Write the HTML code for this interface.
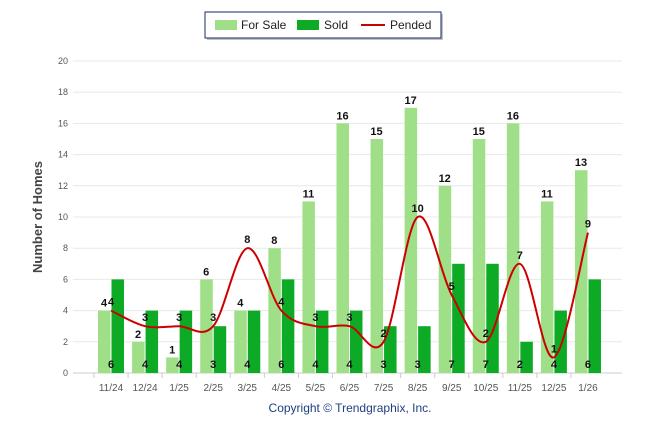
<!DOCTYPE html>
<html><head><meta charset="utf-8"><style>
body{margin:0;background:#fff;font-family:"Liberation Sans",Arial,sans-serif}
</style></head><body>
<svg id="c" width="646" height="434" xmlns="http://www.w3.org/2000/svg" style="font-family:'Liberation Sans',Arial,sans-serif">
<g>
<rect x="207" y="14" width="236" height="26" fill="#888" opacity="0.5"/>
<rect x="205" y="12" width="236" height="26" fill="#fff" stroke="#1a2a6a" stroke-width="1"/>
<rect x="215" y="20" width="22" height="10" fill="#9fdf87"/>
<text x="241" y="29" font-size="12" fill="#222">For Sale</text>
<rect x="297" y="20" width="22" height="10" fill="#0daa25"/>
<text x="324" y="29" font-size="12" fill="#222">Sold</text>
<line x1="361" y1="25" x2="385" y2="25" stroke="#cc0000" stroke-width="2"/>
<text x="390" y="29" font-size="12" fill="#222">Pended</text>
</g>
<text transform="translate(42,217) rotate(-90)" text-anchor="middle" font-size="13" font-weight="bold" fill="#444">Number of Homes</text>
<text x="350" y="412" text-anchor="middle" font-size="12" fill="#1f3f7f">Copyright © Trendgraphix, Inc.</text>
<g id="grid"></g><g id="bars"></g><g id="line"></g><g id="labels"></g>
</svg>
<script>
const categories=["11/24","12/24","1/25","2/25","3/25","4/25","5/25","6/25","7/25","8/25","9/25","10/25","11/25","12/25","1/26"];
const forSale=[4,2,1,6,4,8,11,16,15,17,12,15,16,11,13];
const sold=[6,4,4,3,4,6,4,4,3,3,7,7,2,4,6];
const pended=[4,3,3,3,8,4,3,3,2,10,5,2,7,1,9];
const yTicks=[0,2,4,6,8,10,12,14,16,18,20];
const NS="http://www.w3.org/2000/svg";
const y=v=>373-v*15.6;
const x=i=>111+i*34.07;
function mk(t,a,p){const e=document.createElementNS(NS,t);for(const k in a)e.setAttribute(k,a[k]);document.getElementById(p).appendChild(e);return e;}
yTicks.forEach(t=>{
 const l=mk('line',{x1:73,x2:622,y1:y(t),y2:y(t),stroke:t==0?'#ccc':'#e8e8e8','stroke-width':1},'grid');
 
 
 const tx=mk('text',{x:68,y:y(t)+3,'text-anchor':'end','font-size':9,fill:'#555'},'grid');tx.textContent=t;
 
 
});
categories.forEach((c,i)=>{
 const tx=mk('text',{x:x(i),y:391,'text-anchor':'middle','font-size':10,fill:'#555'},'grid');tx.textContent=c;
 
 
 const tk=mk('line',{x1:x(i)-17,x2:x(i)-17,y1:373,y2:378,stroke:'#ccc'},'grid');
 
 
 const b1=mk('rect',{x:x(i)-13,y:y(forSale[i]),width:12.5,height:373-y(forSale[i]),fill:'#9fdf87'},'bars');
 
 
 const b2=mk('rect',{x:x(i)+0.5,y:y(sold[i]),width:12.5,height:373-y(sold[i]),fill:'#0daa25'},'bars');
 
 
 const l1=mk('text',{x:x(i)-7,y:y(forSale[i])-4,'text-anchor':'middle','font-size':11,'font-weight':'bold',fill:'#111'},'labels');l1.textContent=forSale[i];
 
 
 const l2=mk('text',{x:x(i),y:368,'text-anchor':'middle','font-size':11,'font-weight':'bold',fill:'#111'},'labels');l2.textContent=sold[i];
 
 
 const l3=mk('text',{x:x(i),y:y(pended[i])-5,'text-anchor':'middle','font-size':11,'font-weight':'bold',fill:'#111'},'labels');l3.textContent=pended[i];
 
 
});
const pts=pended.map((v,i)=>[x(i),y(v)]);
let d=`M${pts[0][0]},${pts[0][1]}`;
for(let i=0;i<pts.length-1;i++){
 const p0=pts[Math.max(0,i-1)],p1=pts[i],p2=pts[i+1],p3=pts[Math.min(pts.length-1,i+2)];
 const c1=[p1[0]+(p2[0]-p0[0])/6,p1[1]+(p2[1]-p0[1])/6],c2=[p2[0]-(p3[0]-p1[0])/6,p2[1]-(p3[1]-p1[1])/6];
 d+=` C${c1[0]},${c1[1]} ${c2[0]},${c2[1]} ${p2[0]},${p2[1]}`;
}
const ln=mk('path',{d:d,fill:'none',stroke:'#cc0000','stroke-width':2},'line');


</script>
</body></html>
